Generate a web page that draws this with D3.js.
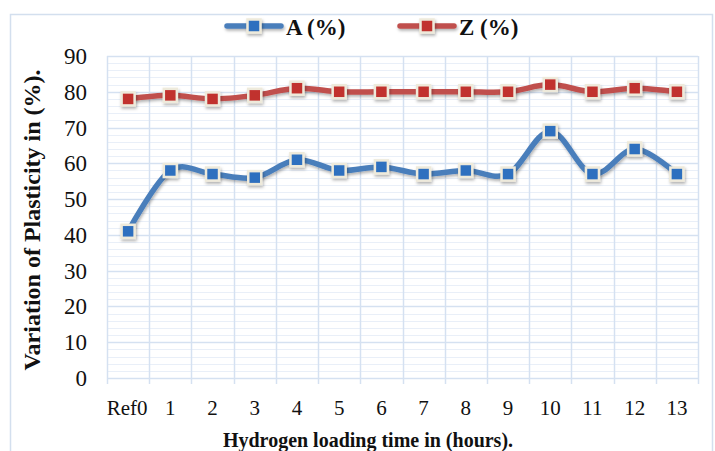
<!DOCTYPE html>
<html>
<head>
<meta charset="utf-8">
<script src="https://cdn.jsdelivr.net/npm/d3@7"></script>
<style>
  body { margin: 0; background: #fff; }
</style>
</head>
<body>
<svg id="chart" width="715" height="451"></svg>
<script>
// data
const categories = ['Ref0', '1', '2', '3', '4', '5', '6', '7', '8', '9', '10', '11', '12', '13'];
const seriesA = [41, 58, 57, 56, 61, 58, 59, 57, 58, 57, 69, 57, 64, 57];
const seriesZ = [78, 79, 78, 79, 81, 80, 80, 80, 80, 80, 82, 80, 81, 80];
const yTicks = [0, 10, 20, 30, 40, 50, 60, 70, 80, 90];

const series = [
  { name: 'A (%)', values: seriesA, line: '#4a7ebb', fill: '#2f6fbf', legendX: 225 },
  { name: 'Z (%)', values: seriesZ, line: '#c0504d', fill: '#c1302e', legendX: 398 }
];

const FONT = 'Liberation Serif';
const svg = d3.select('#chart');
const plot = { left: 107, right: 698, top: 56, bottom: 378 };

// soft shadow like the office style
const defs = svg.append('defs');
defs.append('filter').attr('id', 'shadow')
  .attr('filterUnits', 'userSpaceOnUse')
  .attr('x', 0).attr('y', 0).attr('width', 715).attr('height', 451)
  .append('feDropShadow')
  .attr('dx', 1).attr('dy', 2).attr('stdDeviation', 1.5)
  .attr('flood-color', '#000').attr('flood-opacity', 0.3);

// outer border
svg.append('rect')
  .attr('x', 10.5).attr('y', 14.5)
  .attr('width', 702).attr('height', 460)
  .attr('fill', 'none').attr('stroke', '#d3dfee').attr('stroke-width', 1.5);

const x = d3.scaleBand().domain(categories).range([plot.left, plot.right]).padding(0);
const y = d3.scaleLinear().domain([0, 90]).range([plot.bottom, plot.top]);

// minor horizontal grid (every 2)
svg.append('g').selectAll('line')
  .data(d3.range(0, 91, 2).filter(v => v % 10 !== 0))
  .enter().append('line')
  .attr('x1', plot.left).attr('x2', plot.right)
  .attr('y1', d => Math.round(y(d)) + 0.5).attr('y2', d => Math.round(y(d)) + 0.5)
  .attr('stroke', '#e9eff8').attr('stroke-width', 1);

// major horizontal grid
svg.append('g').selectAll('line')
  .data(yTicks)
  .enter().append('line')
  .attr('x1', plot.left).attr('x2', plot.right)
  .attr('y1', d => Math.round(y(d)) + 0.5).attr('y2', d => Math.round(y(d)) + 0.5)
  .attr('stroke', '#d5e1f1').attr('stroke-width', 1.5);

// vertical grid at band edges, with small ticks below the axis
const edges = categories.map(c => x(c)).concat([plot.right]);
svg.append('g').selectAll('line')
  .data(edges)
  .enter().append('line')
  .attr('x1', d => Math.round(d) + 0.5).attr('x2', d => Math.round(d) + 0.5)
  .attr('y1', plot.top).attr('y2', plot.bottom + 6)
  .attr('stroke', '#d5e1f1').attr('stroke-width', 1.5);

// y tick labels
svg.append('g').selectAll('text')
  .data(yTicks)
  .enter().append('text')
  .attr('x', 87).attr('y', d => y(d) + 8)
  .attr('text-anchor', 'end')
  .attr('font-family', FONT).attr('font-size', 23).attr('fill', '#111')
  .text(d => d);

// x tick labels
svg.append('g').selectAll('text')
  .data(categories)
  .enter().append('text')
  .attr('x', d => x(d) + x.bandwidth() / 2 - (d === 'Ref0' ? 1 : 0))
  .attr('y', 415)
  .attr('text-anchor', 'middle')
  .attr('font-family', FONT).attr('font-size', 21).attr('fill', '#111')
  .text(d => d);

// axis titles
svg.append('text')
  .attr('transform', 'translate(368,447) scale(1,1.1)')
  .attr('text-anchor', 'middle')
  .attr('font-family', FONT).attr('font-size', 20).attr('font-weight', 'bold').attr('fill', '#111')
  .text('Hydrogen loading time in (hours).');

svg.append('text')
  .attr('transform', 'translate(40,220) rotate(-90)')
  .attr('text-anchor', 'middle')
  .attr('font-family', FONT).attr('font-size', 24).attr('font-weight', 'bold').attr('fill', '#111')
  .text('Variation of Plasticity in (%).');

const line = d3.line()
  .x((d, i) => x(categories[i]) + x.bandwidth() / 2)
  .y(d => y(d))
  .curve(d3.curveCardinal.tension(0));

function drawMarker(g, cx, cy, color) {
  g.append('rect')
    .attr('x', cx - 6.5).attr('y', cy - 6.5)
    .attr('width', 13).attr('height', 13)
    .attr('fill', color)
    .attr('stroke', '#eeeadb').attr('stroke-width', 2.5)
    .attr('filter', 'url(#shadow)');
}

series.forEach(s => {
  const g = svg.append('g');
  g.append('path')
    .datum(s.values)
    .attr('d', line)
    .attr('fill', 'none')
    .attr('stroke', s.line)
    .attr('stroke-width', 5.5)
    .attr('stroke-linecap', 'round')
    .attr('filter', 'url(#shadow)');
  s.values.forEach((v, i) => {
    drawMarker(g, x(categories[i]) + x.bandwidth() / 2, y(v), s.fill);
  });

  // legend
  const lg = svg.append('g');
  lg.append('line')
    .attr('x1', s.legendX + 2).attr('x2', s.legendX + 56)
    .attr('y1', 26).attr('y2', 26)
    .attr('stroke', s.line).attr('stroke-width', 5.5)
    .attr('stroke-linecap', 'round')
    .attr('filter', 'url(#shadow)');
  drawMarker(lg, s.legendX + 29, 26, s.fill);
  lg.append('text')
    .attr('x', s.legendX + 61).attr('y', 35)
    .attr('font-family', FONT).attr('font-size', 23).attr('font-weight', 'bold').attr('fill', '#111')
    .text(s.name);
});
</script>
</body>
</html>
